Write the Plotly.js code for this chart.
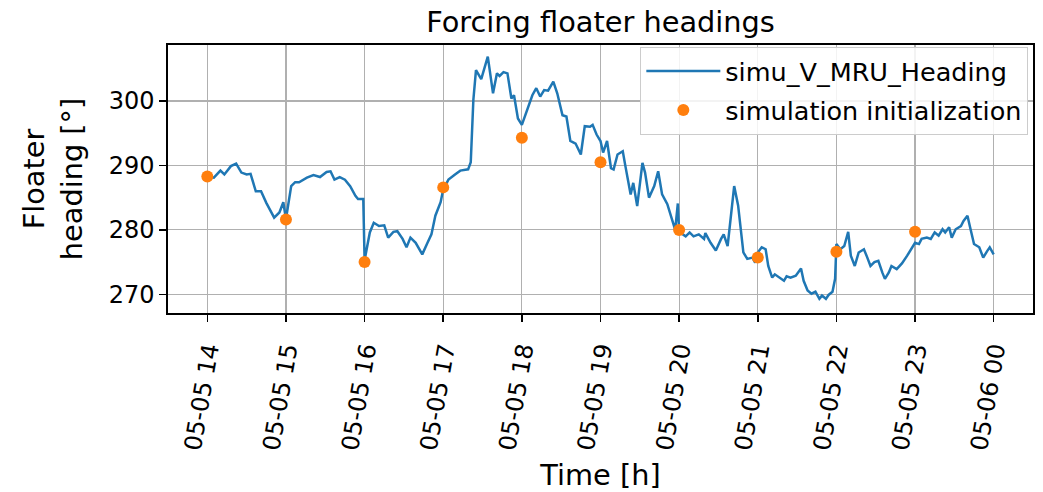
<!DOCTYPE html>
<html>
<head>
<meta charset="utf-8">
<script src="https://cdn.plot.ly/plotly-3.0.1.min.js"></script>
<style>
  html, body { margin: 0; padding: 0; background: #fff; }
  #chart { width: 1043px; height: 492px; }
</style>
</head>
<body>
<div id="chart"></div>
<script>
// Heading record, times as MM-DD HH:MM
const headingTimes = [
  '05-05 14:00','05-05 14:05','05-05 14:10','05-05 14:13','05-05 14:18','05-05 14:22','05-05 14:26','05-05 14:30',
  '05-05 14:33','05-05 14:37','05-05 14:41','05-05 14:45','05-05 14:51','05-05 14:55','05-05 14:58','05-05 15:00',
  '05-05 15:04','05-05 15:07','05-05 15:10','05-05 15:16','05-05 15:21','05-05 15:26','05-05 15:31','05-05 15:34',
  '05-05 15:37','05-05 15:41','05-05 15:45','05-05 15:49','05-05 15:53','05-05 15:55','05-05 15:59','05-05 16:00',
  '05-05 16:04','05-05 16:07','05-05 16:11','05-05 16:15','05-05 16:18','05-05 16:22','05-05 16:25','05-05 16:29',
  '05-05 16:32','05-05 16:35','05-05 16:39','05-05 16:44','05-05 16:48','05-05 16:51','05-05 16:54','05-05 16:58',
  '05-05 17:00','05-05 17:04','05-05 17:09','05-05 17:13','05-05 17:19','05-05 17:21','05-05 17:23','05-05 17:25',
  '05-05 17:29','05-05 17:32','05-05 17:34','05-05 17:38','05-05 17:41','05-05 17:43','05-05 17:46','05-05 17:49',
  '05-05 17:52','05-05 17:54','05-05 17:57','05-05 18:00','05-05 18:04','05-05 18:08','05-05 18:11','05-05 18:14',
  '05-05 18:17','05-05 18:20','05-05 18:24','05-05 18:27','05-05 18:31','05-05 18:34','05-05 18:37','05-05 18:41',
  '05-05 18:45','05-05 18:48','05-05 18:52','05-05 18:54','05-05 18:57','05-05 19:00','05-05 19:02','05-05 19:05',
  '05-05 19:08','05-05 19:10','05-05 19:13','05-05 19:17','05-05 19:19','05-05 19:23','05-05 19:25','05-05 19:28',
  '05-05 19:32','05-05 19:34','05-05 19:37','05-05 19:41','05-05 19:44','05-05 19:47','05-05 19:51','05-05 19:55',
  '05-05 19:57','05-05 19:59','05-05 20:00','05-05 20:05','05-05 20:08','05-05 20:11','05-05 20:15','05-05 20:19',
  '05-05 20:20','05-05 20:24','05-05 20:28','05-05 20:32','05-05 20:34','05-05 20:37','05-05 20:42','05-05 20:45',
  '05-05 20:47','05-05 20:49','05-05 20:52','05-05 20:56','05-05 20:58','05-05 21:00','05-05 21:03','05-05 21:06',
  '05-05 21:08','05-05 21:11','05-05 21:13','05-05 21:17','05-05 21:20','05-05 21:22','05-05 21:25','05-05 21:29',
  '05-05 21:33','05-05 21:35','05-05 21:38','05-05 21:41','05-05 21:44','05-05 21:47','05-05 21:49','05-05 21:52',
  '05-05 21:54','05-05 21:57','05-05 21:59','05-05 22:00','05-05 22:03','05-05 22:06','05-05 22:09','05-05 22:11',
  '05-05 22:14','05-05 22:17','05-05 22:21','05-05 22:23','05-05 22:26','05-05 22:29','05-05 22:32','05-05 22:35',
  '05-05 22:37','05-05 22:40','05-05 22:42','05-05 22:46','05-05 22:50','05-05 22:54','05-05 22:58','05-05 23:00',
  '05-05 23:03','05-05 23:05','05-05 23:09','05-05 23:12','05-05 23:15','05-05 23:18','05-05 23:21','05-05 23:23',
  '05-05 23:26','05-05 23:28','05-05 23:31','05-05 23:35','05-05 23:37','05-05 23:40','05-05 23:42','05-05 23:45',
  '05-05 23:49','05-05 23:52','05-05 23:55','05-05 23:57','05-06 00:00'
];
const headingValues = [
  288.3,288.1,289.2,288.6,289.9,290.3,288.9,288.6,
  288.7,286.0,286.0,284.2,281.9,282.7,284.3,281.7,
  286.8,287.4,287.4,288.1,288.5,288.2,289.0,289.1,
  287.8,288.2,287.8,286.8,285.3,284.8,284.8,275.3,
  279.6,281.1,280.6,280.7,278.8,279.7,279.8,278.6,
  277.3,278.8,278.0,276.2,278.0,279.3,282.2,284.3,
  286.3,287.8,288.6,289.2,289.4,290.5,300.2,304.8,
  303.4,305.6,306.9,301.2,304.3,303.9,304.5,304.3,
  300.4,300.9,297.3,296.3,298.6,300.9,302.0,300.7,
  301.7,301.6,303.0,301.2,297.8,297.6,293.8,293.4,
  291.7,296.1,296.0,296.3,294.8,293.8,292.0,293.8,
  289.6,289.4,291.7,292.2,289.9,285.5,287.3,283.7,
  290.4,288.9,285.0,286.8,289.1,285.5,284.0,281.3,
  280.0,284.1,279.7,279.0,279.6,279.0,279.3,278.6,
  279.5,278.0,276.8,278.6,279.3,277.5,286.8,283.8,
  279.6,276.5,275.5,275.7,274.9,276.5,277.3,277.0,
  274.4,272.6,273.1,272.6,272.1,272.8,272.6,272.9,
  274.0,272.1,270.6,270.1,270.4,269.3,269.8,269.3,
  269.9,270.4,272.4,277.8,277.0,277.5,279.7,276.0,
  274.4,276.5,277.0,276.0,274.4,275.0,275.2,273.4,
  272.4,273.4,274.4,273.9,274.8,276.0,277.3,278.0,
  277.8,278.6,278.8,278.6,279.6,279.1,280.1,279.6,
  280.4,278.8,280.1,280.6,281.4,282.2,280.4,277.8,
  277.3,275.7,276.7,277.3,276.2
];

// Simulation initialization points (one per hour)
const initTimes = [
  '05-05 14:00','05-05 15:00','05-05 16:00','05-05 17:00','05-05 18:00',
  '05-05 19:00','05-05 20:00','05-05 21:00','05-05 22:00','05-05 23:00'
];
const initValues = [288.3, 281.6, 275.0, 286.6, 294.3, 290.5, 280.0, 275.7, 276.6, 279.7];

const year = '2023-';
const toDate = t => year + t;

const font = 'DejaVu Sans, sans-serif';

const traces = [
  {
    x: headingTimes.map(toDate),
    y: headingValues,
    type: 'scatter',
    mode: 'lines',
    name: 'simu_V_MRU_Heading',
    legendgroup: 'heading',
    line: {color: '#1f77b4', width: 2.5}
  },
  {
    x: initTimes.map(toDate),
    y: initValues,
    type: 'scatter',
    mode: 'markers',
    name: 'simulation initialization',
    legendgroup: 'init',
    marker: {color: '#ff7f0e', size: 12}
  }
];

const axisStyle = {
  showline: true,
  mirror: true,
  linecolor: '#000',
  linewidth: 1.6,
  ticks: 'outside',
  ticklen: 7,
  tickwidth: 1.6,
  tickcolor: '#000',
  showgrid: true,
  gridcolor: '#b0b0b0',
  gridwidth: 1.2,
  zeroline: false,
  tickfont: {family: font, size: 24, color: '#000'}
};

const layout = {
  width: 1043,
  height: 492,
  margin: {l: 168, r: 10, t: 45, b: 179},
  paper_bgcolor: '#fff',
  plot_bgcolor: '#fff',
  font: {family: font, color: '#000'},
  showlegend: true,
  title: {
    text: 'Forcing floater headings',
    font: {family: font, size: 28.8, color: '#000'},
    x: 0.5, xref: 'paper', xanchor: 'center',
    y: 0.955, yref: 'container', yanchor: 'middle'
  },
  xaxis: Object.assign({}, axisStyle, {
    type: 'date',
    range: [toDate('05-05 13:30'), toDate('05-06 00:30')],
    dtick: 3600000,
    tick0: toDate('05-05 14:00'),
    tickformat: '%m-%d %H',
    tickangle: -80,
    ticklabelstandoff: 5,
    title: {text: 'Time [h]', font: {family: font, size: 28.8, color: '#000'}, standoff: 14}
  }),
  yaxis: Object.assign({}, axisStyle, {
    range: [267.1, 308.7],
    dtick: 10,
    tick0: 270,
    title: {text: 'Floater<br>heading [°]', font: {family: font, size: 28.8, color: '#000'}, standoff: 18}
  }),
  legend: {
    x: 0.9946, xanchor: 'right',
    y: 0.993, yanchor: 'top',
    bgcolor: 'rgba(255,255,255,0.85)',
    bordercolor: '#cccccc',
    borderwidth: 1,
    font: {family: font, size: 25.5, color: '#000'},
    itemwidth: 74,
    tracegroupgap: 3
  }
};

Plotly.newPlot('chart', traces, layout, {displayModeBar: false, staticPlot: true});
</script>
</body>
</html>
